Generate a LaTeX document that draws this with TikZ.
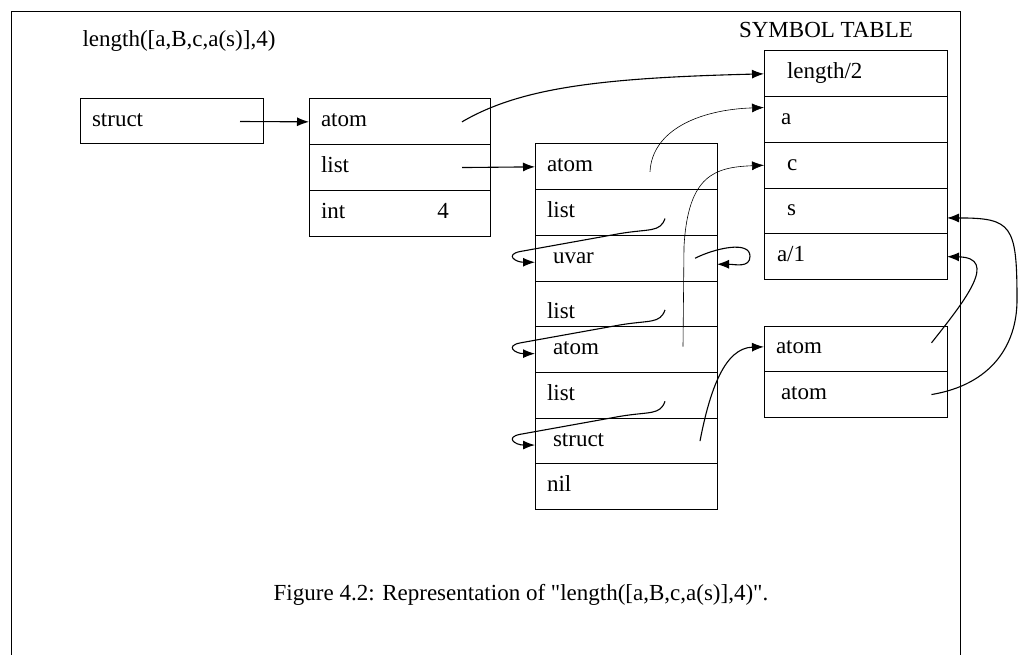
\documentclass[tikz,border=0pt]{standalone}
\usepackage{fontspec}
\setmainfont{Liberation Serif}[Ligatures=TeXOff]
\usetikzlibrary{positioning,arrows.meta}

\begin{document}
\begin{tikzpicture}[x=1pt,y=-1pt,font=\fontsize{23}{27}\selectfont,
  cell/.style={draw,line width=1pt,outer sep=0pt,minimum height=45.7pt,text width=159pt,
    inner xsep=12pt,inner ysep=0pt,text height=15pt,text depth=5pt,align=left},
  link/.style={line width=1.1pt,-{Latex[length=12pt,width=9pt]}},
  fine/.style={link,line width=0.6pt}]
\useasboundingbox (0,0) rectangle (1018,655);
\draw[line width=0.8pt] (11,655) |- (960,11) -- (960,655);
\node[anchor=base west] (title) at (79,47) {length([a,B,c,a(s)],4)};
\node[anchor=base] (symtitle) at (826,38) {SYMBOL TABLE};
\node[anchor=base] (caption) at (521,600) {Figure 4.2: Representation of "length([a,B,c,a(s)],4)".};

\node[cell,minimum height=45pt,anchor=north west] (st) at (80,99) {struct};

\node[cell,text width=157pt,anchor=north west] (b1) at (309,99) {atom};
\node[cell,text width=157pt,below=0pt of b1] (b2) {list};
\node[cell,text width=157pt,below=0pt of b2] (b3) {int\hspace{92pt}4};

\node[cell,text width=158pt,anchor=north west] (l1) at (535,144) {atom};
\node[cell,text width=158pt,below=0pt of l1] (l2) {list};
\node[cell,text width=158pt,below=0pt of l2] (l3) {\hspace*{6pt}uvar};
\node[cell,text width=158pt,below=0pt of l3] (l4) {\raisebox{-10pt}{list}};
\node[cell,text width=158pt,below=0pt of l4] (l5) {\hspace*{6pt}atom};
\node[cell,text width=158pt,below=0pt of l5] (l6) {list};
\node[cell,text width=158pt,below=0pt of l6] (l7) {\hspace*{6pt}struct};
\node[cell,text width=158pt,below=0pt of l7] (l8) {nil};

\node[cell,anchor=north west] (t1) at (764,51) {\hspace*{11pt}length/2};
\node[cell,below=0pt of t1] (t2) {\hspace*{5pt}a};
\node[cell,below=0pt of t2] (t3) {\hspace*{11pt}c};
\node[cell,below=0pt of t3] (t4) {\hspace*{11pt}s};
\node[cell,below=0pt of t4] (t5) {\hspace*{1pt}a/1};

\node[cell,anchor=north west] (r1) at (764,326) {atom};
\node[cell,below=0pt of r1] (r2) {\hspace*{5pt}atom};

\coordinate (far) at (1017,300);

\draw[link] ([xshift=-23pt]st.east) -- (b1.west);
\draw[link] ([xshift=-28pt]b1.east) .. controls +(58,-34) and +(-164,4) .. (t1.west);
\draw[link] ([xshift=-28pt]b2.east) -- (l1.west);
\draw[fine] ([xshift=24pt,yshift=-5pt]l1.center) .. controls +(2,-42) and +(-64,2) .. ([yshift=12pt]t2.west);
\draw[fine] ([xshift=57pt,yshift=3pt]l5.center) -- ++(1,-100) .. controls +(4,-72) and +(-49,2) .. (t3.west);
\foreach \a/\b in {l2/l3,l4/l5,l6/l7}
  \draw[link] ([xshift=39pt,yshift=-6pt]\a.center) .. controls +(-5,14) and +(30,-5) .. ++(-45,15)
    -- ++(-100,18) .. controls +(-15,3) and +(-20,0) .. ([yshift=-4pt]\b.west);
\draw[link] ([xshift=69pt]l3.center) .. controls +(20,-10) and +(0,-16) .. ++(55,-2)
  .. controls +(0,12) and +(18,0) .. ([yshift=-6pt]l3.east);
\draw[link] ([xshift=74pt]l7.center) .. controls +(10,-52) and +(-39,1) .. ([yshift=2pt]r1.west);
\draw[link] ([xshift=76pt,yshift=6pt]r1.center) .. controls +(34,-43) and +(52,1) .. (t5.east);
\draw[link] ([xshift=76pt]r2.center) .. controls +(60,-10) and +(0,45) .. (far)
  .. controls +(0,-75) and +(65,0) .. ([yshift=-7pt]t4.east);
\end{tikzpicture}
\end{document}
